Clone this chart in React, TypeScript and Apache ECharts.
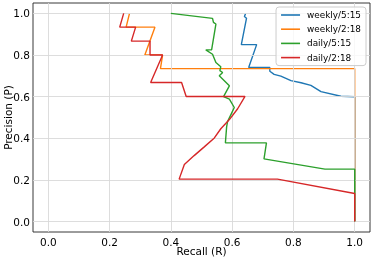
import React, { useEffect, useRef } from 'react';
import * as echarts from 'echarts';

const xTickValues = [0, 0.2, 0.4, 0.6, 0.8, 1.0];
const yTickValues = [0, 0.2, 0.4, 0.6, 0.8, 1.0];
const seriesNames = ['weekly/5:15', 'weekly/2:18', 'daily/5:15', 'daily/2:18'];
const seriesColors = ['#1f77b4', '#ff7f0e', '#2ca02c', '#d62728'];

const weekly515Recall = [0.644, 0.640, 0.647, 0.630, 0.680, 0.654, 0.723, 0.723, 0.737, 0.759, 0.792, 0.825, 0.857, 0.890, 0.955, 1.0, 1.0];
const weekly515Precision = [1.0, 0.985, 0.977, 0.85, 0.85, 0.74, 0.74, 0.722, 0.707, 0.699, 0.677, 0.667, 0.654, 0.624, 0.602, 0.6, 0.0];

const weekly218Recall = [0.265, 0.254, 0.348, 0.315, 0.373, 0.366, 1.0, 1.0];
const weekly218Precision = [1.0, 0.934, 0.934, 0.80, 0.80, 0.735, 0.735, 0.0];

const daily515Recall = [0.400, 0.536, 0.539, 0.547, 0.533, 0.514, 0.536, 0.547, 0.563, 0.560, 0.569, 0.558, 0.591, 0.572, 0.591, 0.607, 0.598, 0.585, 0.582, 0.578, 0.712, 0.704, 0.903, 1.0, 1.0];
const daily515Precision = [1.0, 0.976, 0.957, 0.949, 0.825, 0.825, 0.804, 0.764, 0.744, 0.725, 0.716, 0.700, 0.652, 0.600, 0.588, 0.548, 0.52, 0.48, 0.455, 0.378, 0.378, 0.301, 0.252, 0.252, 0.0];

const daily218Recall = [0.246, 0.233, 0.285, 0.271, 0.332, 0.332, 0.373, 0.334, 0.435, 0.450, 0.642, 0.618, 0.591, 0.563, 0.542, 0.509, 0.476, 0.444, 0.427, 0.748, 1.0, 1.0];
const daily218Precision = [1.0, 0.934, 0.934, 0.867, 0.867, 0.80, 0.80, 0.668, 0.668, 0.601, 0.601, 0.542, 0.490, 0.446, 0.402, 0.359, 0.317, 0.274, 0.204, 0.204, 0.135, 0.0];

const recalls = [weekly515Recall, weekly218Recall, daily515Recall, daily218Recall];
const precisions = [weekly515Precision, weekly218Precision, daily515Precision, daily218Precision];

const FONT = 'DejaVu Sans';

function fmtTick(v: number): string {
  const k = v / 0.2;
  if (Math.abs(k - Math.round(k)) > 1e-6) return '';
  if (Math.abs(v) < 1e-9) return '0.0';
  return v.toFixed(1);
}

export default function App() {
  const ref = useRef<HTMLDivElement>(null);
  useEffect(() => {
    if (!ref.current) return;
    const chart = echarts.init(ref.current, undefined, { renderer: 'svg' });
    const lineSeries = seriesNames.map((name, i) => ({
      name,
      type: 'line',
      data: recalls[i].map((r, j) => [r, precisions[i][j]]),
      showSymbol: false,
      symbol: 'none',
      lineStyle: { color: seriesColors[i], width: 1.4 },
      itemStyle: { color: seriesColors[i] },
      z: 3 + i,
      silent: true,
    }));
    const option: any = {
      animation: false,
      textStyle: { fontFamily: FONT },
      grid: {
        left: 33, right: 4, top: 3, bottom: 28,
        outerBoundsMode: 'none',
        containLabel: false,
        show: true, borderColor: '#222', borderWidth: 0.9, backgroundColor: 'transparent',
      },
      legend: {
        data: seriesNames,
        orient: 'vertical',
        right: 8,
        top: 7,
        z: 20,
        icon: 'rect',
        itemWidth: 19,
        itemHeight: 1.6,
        itemGap: 4.2,
        padding: [3, 5, 3, 5],
        borderColor: '#cccccc',
        borderWidth: 1,
        borderRadius: 3,
        backgroundColor: 'rgba(255,255,255,0.8)',
        textStyle: { fontFamily: FONT, fontSize: 8.9, color: '#000', lineHeight: 10, padding: [0, 0, 0, 2] },
        selectedMode: false,
      },
      xAxis: {
        type: 'value',
        min: -0.05,
        max: 1.05,
        interval: 0.05,
        name: 'Recall (R)',
        nameLocation: 'middle',
        nameGap: 13,
        nameMoveOverlap: false,
        nameTextStyle: { fontFamily: FONT, fontSize: 10.5, color: '#000' },
        axisLine: { show: false },
        axisTick: { show: false },
        splitLine: { show: false },
        axisLabel: { formatter: fmtTick, fontFamily: FONT, fontSize: 10.5, color: '#000', margin: 4, showMinLabel: true, showMaxLabel: true },
      },
      yAxis: {
        type: 'value',
        min: -0.05,
        max: 1.05,
        interval: 0.05,
        name: 'Precision (P)',
        nameLocation: 'middle',
        nameGap: 20,
        nameMoveOverlap: false,
        nameTextStyle: { fontFamily: FONT, fontSize: 10.5, color: '#000' },
        axisLine: { show: false },
        axisTick: { show: false },
        splitLine: { show: false },
        axisLabel: { formatter: fmtTick, fontFamily: FONT, fontSize: 10.5, color: '#000', margin: 3 },
      },
      series: [
        {
          name: '__grid',
          type: 'line',
          data: [[0, 0]],
          showSymbol: false,
          symbol: 'none',
          lineStyle: { opacity: 0 },
          silent: true,
          z: 1,
          markLine: {
            silent: true,
            symbol: 'none',
            label: { show: false },
            lineStyle: { color: '#d9d9d9', width: 0.9, type: 'solid' },
            data: [
              ...xTickValues.map((v) => ({ xAxis: v })),
              ...yTickValues.map((v) => ({ yAxis: v })),
            ],
          },
        },
        ...lineSeries,
      ],
    };
    chart.setOption(option);
    return () => chart.dispose();
  }, []);
  return <div ref={ref} style={{ position: 'fixed', left: 0, top: 0, width: 374, height: 260 }} />;
}
